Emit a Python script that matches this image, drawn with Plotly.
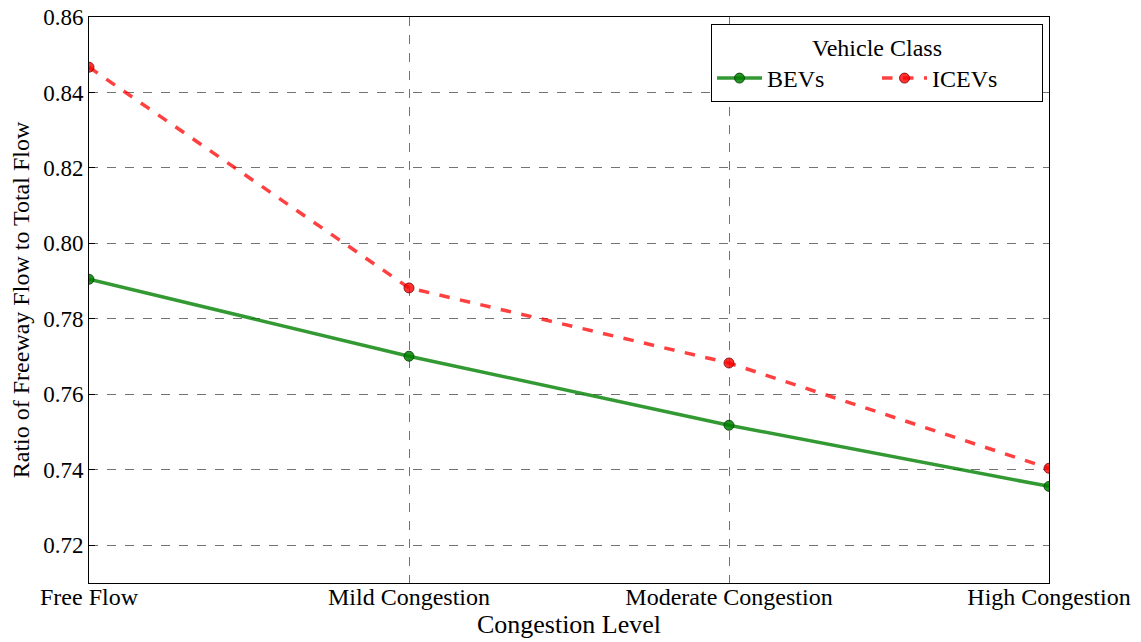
import plotly.graph_objects as go

categories = ["Free Flow", "Mild Congestion", "Moderate Congestion", "High Congestion"]
bev_values = [0.7905, 0.7701, 0.7518, 0.7356]
icev_values = [0.8467, 0.7882, 0.7683, 0.7404]
y_ticks = [0.72, 0.74, 0.76, 0.78, 0.80, 0.82, 0.84, 0.86]

FONT = "Liberation Serif"

fig = go.Figure()
fig.add_trace(go.Scatter(
    x=categories, y=bev_values, name="BEVs", mode="lines+markers",
    line=dict(color="rgba(0,128,0,0.8)", width=3.5),
    marker=dict(size=10, color="rgba(0,128,0,0.85)", line=dict(color="rgba(0,60,0,0.8)", width=1)),
))
fig.add_trace(go.Scatter(
    x=categories, y=icev_values, name="ICEVs", mode="lines+markers",
    line=dict(color="rgba(255,0,0,0.75)", width=3.5, dash="dash"),
    marker=dict(size=10, color="rgba(255,0,0,0.8)", line=dict(color="rgba(120,0,0,0.8)", width=1)),
))

fig.update_layout(
    width=1141, height=642,
    margin=dict(l=89, r=92, t=17, b=59, autoexpand=False),
    paper_bgcolor="white", plot_bgcolor="white",
    font=dict(family=FONT, size=24, color="black"),
    legend=dict(
        title=dict(text="Vehicle Class", side="top center", font=dict(size=24, family=FONT)),
        orientation="h",
        x=0.99375, xanchor="right", y=0.988, yanchor="top",
        bordercolor="black", borderwidth=1, bgcolor="white",
        font=dict(size=24, family=FONT), entrywidth=105, itemwidth=45,
    ),
)
fig.update_xaxes(
    type="category", range=[0, 3], automargin=False,
    showline=True, linecolor="black", linewidth=1, mirror=True,
    showgrid=True, gridcolor="rgba(0,0,0,0.55)", griddash="dash", gridwidth=1,
    ticks="", tickfont=dict(size=24, family=FONT), ticklabelstandoff=-8,
    title=dict(text="Congestion Level", font=dict(size=26, family=FONT), standoff=0),
)
fig.update_yaxes(
    range=[0.71, 0.86], tickvals=y_ticks, tickformat=".2f", automargin=False,
    showline=True, linecolor="black", linewidth=1, mirror=True,
    showgrid=True, gridcolor="rgba(0,0,0,0.55)", griddash="dash", gridwidth=1,
    zeroline=False, ticks="inside", ticklen=6, tickcolor="black",
    tickfont=dict(size=23, family=FONT),
    title=dict(text="Ratio of Freeway Flow to Total Flow", font=dict(size=24, family=FONT), standoff=6),
)

fig.write_html("out.html")
